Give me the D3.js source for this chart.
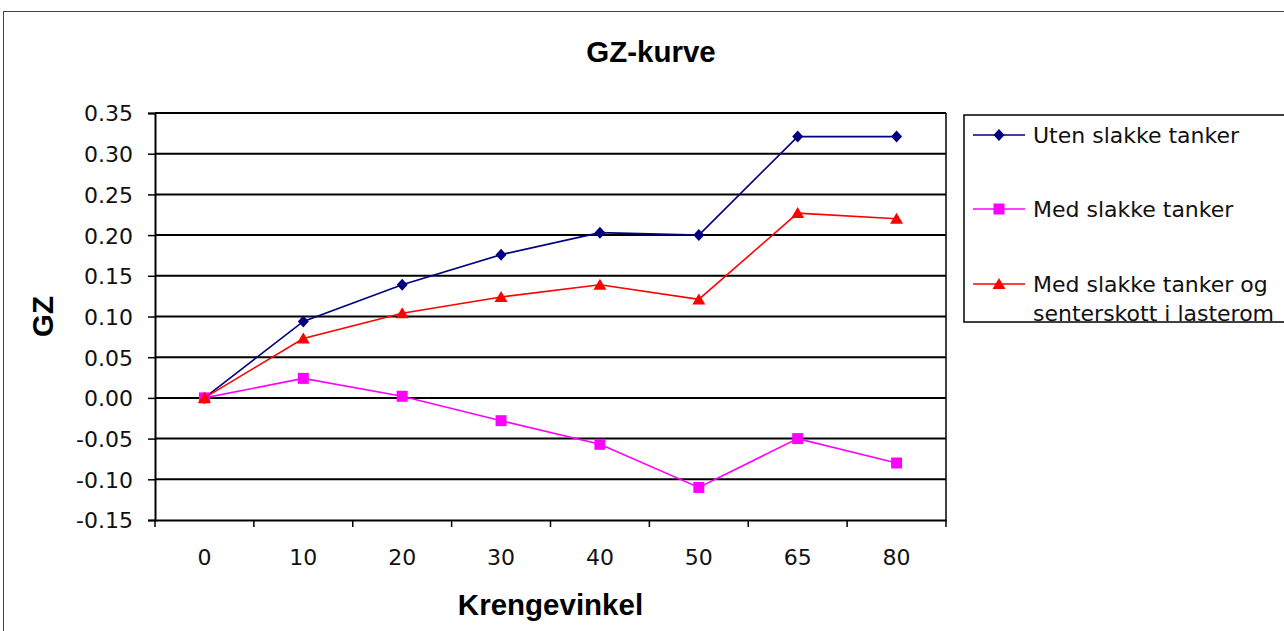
<!DOCTYPE html>
<html>
<head>
  <meta charset="UTF-8">
  <title>GZ-kurve</title>
  <script src="https://d3js.org/d3.v7.min.js"></script>
  <style>
    body { margin: 0; background: #fff; }
    svg { display: block; }
    .tick-label { font-family: "DejaVu Sans", sans-serif; font-size: 22px; fill: #111; }
    .bold-label { font-family: "Liberation Sans", Arial, sans-serif; font-weight: bold; font-size: 29.5px; fill: #000; }
    .axis path, .axis line { stroke: #000; }
  </style>
</head>
<body>
  <svg width="1284" height="631"></svg>

  <script>
    const categories = ["0", "10", "20", "30", "40", "50", "65", "80"];
    const utenSlakke = [0.000, 0.094, 0.139, 0.176, 0.203, 0.200, 0.321, 0.321];
    const medSlakke = [0.000, 0.024, 0.002, -0.028, -0.057, -0.110, -0.050, -0.080];
    const medSenterskott = [0.000, 0.073, 0.104, 0.124, 0.139, 0.121, 0.227, 0.220];
    const yTicks = [-0.15, -0.10, -0.05, 0.00, 0.05, 0.10, 0.15, 0.20, 0.25, 0.30, 0.35];
    const seriesNames = ["Uten slakke tanker", "Med slakke tanker", ["Med slakke tanker og", "senterskott i lasterom"]];

    const svg = d3.select("svg");
    const plot = { left: 155, right: 946, top: 113, bottom: 520 };

    // outer chart border
    svg.append("rect")
      .attr("x", 3.5).attr("y", 11.5)
      .attr("width", 1300).attr("height", 640)
      .attr("fill", "#fff").attr("stroke", "#444").attr("stroke-width", 1);

    const x = d3.scaleBand()
      .domain(categories)
      .range([plot.left, plot.right])
      .padding(0);

    const y = d3.scaleLinear()
      .domain([-0.15, 0.35])
      .range([plot.bottom, plot.top]);

    // gridlines
    svg.append("g")
      .selectAll("line")
      .data(yTicks.filter(d => d > -0.15))
      .join("line")
      .attr("x1", plot.left).attr("x2", plot.right)
      .attr("y1", d => y(d)).attr("y2", d => y(d))
      .attr("stroke", "#000").attr("stroke-width", 2);

    // right border of plot area
    svg.append("line")
      .attr("x1", plot.right).attr("x2", plot.right)
      .attr("y1", plot.top).attr("y2", plot.bottom)
      .attr("stroke", "#000").attr("stroke-width", 1.5);

    // y axis
    const yAxis = svg.append("g")
      .attr("class", "axis")
      .attr("transform", `translate(${plot.left},0)`)
      .call(d3.axisLeft(y).tickValues(yTicks).tickSize(7).tickPadding(15)
        .tickFormat(d => d.toFixed(2)));
    yAxis.select(".domain").attr("stroke-width", 2);
    yAxis.selectAll(".tick line").attr("stroke-width", 1.5);
    yAxis.selectAll("text").attr("class", "tick-label").attr("font-size", null)
      .attr("font-family", null).attr("dy", "0.36em");

    // x axis (labels at band centres, ticks at band edges)
    const xAxis = svg.append("g")
      .attr("class", "axis")
      .attr("transform", `translate(0,${plot.bottom})`)
      .call(d3.axisBottom(x).tickSize(0).tickPadding(29));
    xAxis.select(".domain").attr("stroke-width", 2);
    xAxis.selectAll("text").attr("class", "tick-label").attr("font-size", null)
      .attr("font-family", null);

    const edges = categories.map(c => x(c)).concat([x(categories[categories.length - 1]) + x.bandwidth()]);
    xAxis.selectAll(".edge")
      .data(edges)
      .join("line")
      .attr("class", "edge")
      .attr("x1", d => d).attr("x2", d => d)
      .attr("y1", 0).attr("y2", 7)
      .attr("stroke", "#000").attr("stroke-width", 1.5);

    // titles
    svg.append("text").attr("class", "bold-label")
      .attr("x", 651).attr("y", 62).attr("text-anchor", "middle")
      .text("GZ-kurve");
    svg.append("text").attr("class", "bold-label")
      .attr("x", (plot.left + plot.right) / 2).attr("y", 615).attr("text-anchor", "middle")
      .text("Krengevinkel");
    svg.append("text").attr("class", "bold-label")
      .attr("text-anchor", "middle")
      .attr("transform", `translate(53,${(plot.top + plot.bottom) / 2}) rotate(-90)`)
      .text("GZ");

    const markers = {
      diamond: "M0,-6L5.5,0L0,6L-5.5,0Z",
      square: "M-5.5,-5.5H5.5V5.5H-5.5Z",
      triangle: "M0,-6L6.5,5L-6.5,5Z"
    };

    const series = [
      { values: utenSlakke, color: "#000080", marker: markers.diamond },
      { values: medSlakke, color: "#FF00FF", marker: markers.square },
      { values: medSenterskott, color: "#FF0000", marker: markers.triangle }
    ];

    const line = d3.line()
      .x((d, i) => x(categories[i]) + x.bandwidth() / 2)
      .y(d => y(d));

    series.forEach(s => {
      svg.append("path")
        .datum(s.values)
        .attr("fill", "none")
        .attr("stroke", s.color)
        .attr("stroke-width", 1.6)
        .attr("d", line);
      svg.append("g")
        .selectAll("path")
        .data(s.values)
        .join("path")
        .attr("transform", (d, i) => `translate(${x(categories[i]) + x.bandwidth() / 2},${y(d)})`)
        .attr("d", s.marker)
        .attr("fill", s.color);
    });

    // legend
    const legend = svg.append("g");
    legend.append("rect")
      .attr("x", 964).attr("y", 115)
      .attr("width", 340).attr("height", 207)
      .attr("fill", "#fff").attr("stroke", "#000").attr("stroke-width", 1.5);

    const legendY = [135, 209, 284];
    series.forEach((s, i) => {
      const g = legend.append("g").attr("transform", `translate(0,${legendY[i]})`);
      g.append("line")
        .attr("x1", 973).attr("x2", 1025)
        .attr("y1", 0).attr("y2", 0)
        .attr("stroke", s.color).attr("stroke-width", 1.6);
      g.append("path")
        .attr("transform", "translate(999,0)")
        .attr("d", s.marker)
        .attr("fill", s.color);
      const names = [].concat(seriesNames[i]);
      const t = g.append("text").attr("class", "tick-label");
      names.forEach((n, j) => {
        t.append("tspan")
          .attr("x", 1033)
          .attr("y", j * 29)
          .attr("dy", "0.36em")
          .text(n);
      });
    });
  </script>
</body>
</html>
